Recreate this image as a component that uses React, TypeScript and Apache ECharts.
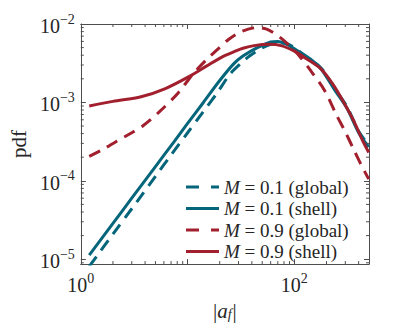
import React, { useEffect, useRef } from "react";
import * as echarts from "echarts";

const X_MIN = 1;
const X_MAX = 500;
const Y_MIN = Math.pow(10, -5.0625);
const Y_MAX = 0.01;

const tealGlobalX = [1.2, 1.43, 2, 3, 5, 7.1, 10, 14, 18.9, 25, 32, 38, 48, 60, 72, 85, 100, 130, 178, 240, 311, 400, 497];
const tealGlobalY = [8.1e-6, 1.12e-5, 2.09e-5, 4.4e-5, 1.14e-4, 2.19e-4, 4.1e-4, 7.6e-4, 1.32e-3, 2.3e-3, 3.2e-3, 3.9e-3, 4.8e-3, 5.5e-3, 5.8e-3, 5.6e-3, 5.0e-3, 3.75e-3, 2.75e-3, 1.48e-3, 8.8e-4, 4.3e-4, 2.85e-4];

const tealShellX = [1.2, 2, 3, 5, 7.4, 10, 14, 20, 27, 33, 45, 60, 70, 85, 109, 140, 178, 240, 311, 400, 497];
const tealShellY = [1.13e-5, 2.86e-5, 6.0e-5, 1.52e-4, 3.1e-4, 5.4e-4, 9.9e-4, 1.9e-3, 3.1e-3, 3.9e-3, 5.0e-3, 5.9e-3, 6.0e-3, 5.5e-3, 4.5e-3, 3.6e-3, 2.66e-3, 1.42e-3, 8.4e-4, 4.1e-4, 2.7e-4];

const redGlobalX = [1.2, 1.6, 2.17, 3, 3.8, 5.4, 8.2, 11.2, 15, 19, 24, 30, 37, 45, 55, 65, 75, 90, 110, 150, 193, 248, 300, 360, 425, 497];
const redGlobalY = [2.05e-4, 2.5e-4, 3.2e-4, 4.1e-4, 5.0e-4, 7.5e-4, 1.33e-3, 2.3e-3, 3.5e-3, 4.7e-3, 6.3e-3, 7.7e-3, 8.6e-3, 9.0e-3, 8.6e-3, 7.6e-3, 6.6e-3, 5.3e-3, 4.0e-3, 2.3e-3, 1.4e-3, 6.9e-4, 4.2e-4, 2.5e-4, 1.57e-4, 1.05e-4];

const redShellX = [1.2, 2, 3.67, 6.2, 10.5, 15, 21.8, 28, 33, 42, 58, 75, 100, 130, 178, 230, 288, 360, 438, 497];
const redShellY = [9.0e-4, 1.03e-3, 1.18e-3, 1.5e-3, 2.16e-3, 2.9e-3, 3.9e-3, 4.5e-3, 4.9e-3, 5.3e-3, 5.5e-3, 5.3e-3, 4.5e-3, 3.6e-3, 2.66e-3, 1.7e-3, 1.02e-3, 5.8e-4, 3.2e-4, 2.3e-4];

const seriesNames = ["M = 0.1 (global)", "M = 0.1 (shell)", "M = 0.9 (global)", "M = 0.9 (shell)"];
const legendLabels = [" = 0.1 (global)", " = 0.1 (shell)", " = 0.9 (global)", " = 0.9 (shell)"];
const seriesDashed = [true, false, true, false];

const TEAL = "#05657a";
const RED = "#a21f2d";
const AXIS = "#4d4d4d";
const TEXT = "#262626";
const FONT = "Liberation Serif";

const DASH_ICON = "path://M0,0H13V3H0Z M25,0H33V3H25Z";
const SOLID_ICON = "path://M0,0H33V3H0Z";

const zip = (xs: number[], ys: number[]) => xs.map((x, i) => [x, ys[i]]);

function minorTicks(lo: number, hi: number): number[] {
  const out: number[] = [];
  for (let e = -7; e <= 3; e++) {
    for (let m = 2; m <= 9; m++) {
      const v = m * Math.pow(10, e);
      if (v > lo && v < hi) out.push(v);
    }
  }
  return out;
}

function supLabel(v: number) {
  const e = Math.log10(v);
  const r = Math.round(e);
  if (Math.abs(e - r) > 1e-6) return "";
  const s = r < 0 ? "\u2212" + Math.abs(r) : String(r);
  return "{b|10}{s|" + s + "}";
}

export default function App() {
  const ref = useRef<HTMLDivElement>(null);
  useEffect(() => {
    document.body.style.margin = "0";
    const chart = echarts.init(ref.current!, null, { renderer: "svg" });
    const labelRich = {
      b: { fontFamily: FONT, fontSize: 20, color: TEXT, verticalAlign: "bottom" },
      s: { fontFamily: FONT, fontSize: 14, color: TEXT, verticalAlign: "bottom", padding: [0, 0, 10, 0] },
    };
    const tickStyle = { stroke: AXIS, lineWidth: 1 };
    const colors = [TEAL, TEAL, RED, RED];
    const xs = [tealGlobalX, tealShellX, redGlobalX, redShellX];
    const ys = [tealGlobalY, tealShellY, redGlobalY, redShellY];
    const lineSeries = seriesNames.map((name, i) => ({
      name,
      type: "line",
      data: zip(xs[i], ys[i]),
      showSymbol: false,
      symbol: "none",
      smooth: 0.3,
      lineStyle: { width: 3, color: colors[i], type: seriesDashed[i] ? [12, 8] : "solid" },
      itemStyle: { color: colors[i] },
      z: i < 2 ? 3 : 4,
    }));
    chart.setOption({
      animation: false,
      backgroundColor: "#ffffff",
      grid: { left: 73, top: 24, right: 38, bottom: 57, containLabel: false },
      legend: {
        data: seriesNames.map((name, i) => ({
          name,
          icon: seriesDashed[i] ? DASH_ICON : SOLID_ICON,
          itemStyle: { color: colors[i] },
        })),
        orient: "vertical",
        left: 181,
        top: 172,
        itemWidth: 33,
        itemHeight: 3,
        itemGap: 1.5,
        formatter: (name: string) => "{i|M}{t|" + legendLabels[seriesNames.indexOf(name)] + "}",
        textStyle: {
          lineHeight: 20,
          rich: {
            i: { fontFamily: FONT, fontStyle: "italic", fontSize: 19, color: TEXT, lineHeight: 20 },
            t: { fontFamily: FONT, fontSize: 19, color: TEXT, lineHeight: 20 },
          },
        },
      },
      xAxis: [
        {
          type: "log",
          logBase: 10,
          min: X_MIN,
          max: X_MAX,
          position: "bottom",
          axisLine: { show: true, lineStyle: { color: AXIS, width: 1 } },
          axisTick: { show: true, inside: true, length: 5, lineStyle: { color: AXIS } },
          splitLine: { show: false },
          axisLabel: {
            margin: 7,
            formatter: (v: number) => (Math.abs(v - 10) < 1e-6 ? "" : supLabel(v)),
            rich: labelRich,
          },
          name: "|{a|a}{f|f}|",
          nameLocation: "middle",
          nameGap: 32,
          nameTextStyle: {
            fontFamily: FONT,
            fontSize: 21,
            color: TEXT,
            rich: {
              a: { fontFamily: FONT, fontStyle: "italic", fontSize: 21, color: TEXT },
              f: { fontFamily: FONT, fontStyle: "italic", fontSize: 14, color: TEXT, padding: [7, 1, 0, 0] },
            },
          },
        },
        {
          type: "log",
          logBase: 10,
          min: X_MIN,
          max: X_MAX,
          position: "top",
          axisLine: { show: true, lineStyle: { color: AXIS, width: 1 } },
          axisTick: { show: true, inside: true, length: 5, lineStyle: { color: AXIS } },
          axisLabel: { show: false },
          splitLine: { show: false },
        },
      ],
      yAxis: [
        {
          type: "log",
          logBase: 10,
          min: Y_MIN,
          max: Y_MAX,
          position: "left",
          axisLine: { show: true, lineStyle: { color: AXIS, width: 1 } },
          axisTick: { show: true, inside: true, length: 5, lineStyle: { color: AXIS } },
          splitLine: { show: false },
          axisLabel: { margin: 6, formatter: (v: number) => supLabel(v), rich: labelRich },
          name: "pdf",
          nameLocation: "middle",
          nameGap: 46,
          nameTextStyle: { fontFamily: FONT, fontSize: 21, color: TEXT },
        },
        {
          type: "log",
          logBase: 10,
          min: Y_MIN,
          max: Y_MAX,
          position: "right",
          axisLine: { show: true, lineStyle: { color: AXIS, width: 1 } },
          axisTick: { show: true, inside: true, length: 5, lineStyle: { color: AXIS } },
          axisLabel: { show: false },
          splitLine: { show: false },
        },
      ],
      series: [
        ...lineSeries,
        {
          type: "custom",
          name: "xminor",
          silent: true,
          clip: false,
          data: minorTicks(X_MIN, X_MAX).map((v) => [v, Y_MIN]),
          renderItem: (params: any, api: any) => {
            const p = api.coord([api.value(0), Y_MIN]);
            const cs = params.coordSys;
            const yb = cs.y + cs.height;
            return {
              type: "group",
              children: [
                { type: "line", shape: { x1: p[0], y1: yb, x2: p[0], y2: yb - 3 }, style: tickStyle },
                { type: "line", shape: { x1: p[0], y1: cs.y, x2: p[0], y2: cs.y + 3 }, style: tickStyle },
              ],
            };
          },
          z: 5,
        },
        {
          type: "custom",
          name: "yminor",
          silent: true,
          clip: false,
          data: minorTicks(Y_MIN, Y_MAX).map((v) => [X_MIN, v]),
          renderItem: (params: any, api: any) => {
            const p = api.coord([X_MIN, api.value(1)]);
            const cs = params.coordSys;
            const xr = cs.x + cs.width;
            return {
              type: "group",
              children: [
                { type: "line", shape: { x1: cs.x, y1: p[1], x2: cs.x + 3, y2: p[1] }, style: tickStyle },
                { type: "line", shape: { x1: xr, y1: p[1], x2: xr - 3, y2: p[1] }, style: tickStyle },
              ],
            };
          },
          z: 5,
        },
      ],
    });
    return () => chart.dispose();
  }, []);
  return <div ref={ref} style={{ width: 407, height: 326 }} />;
}
